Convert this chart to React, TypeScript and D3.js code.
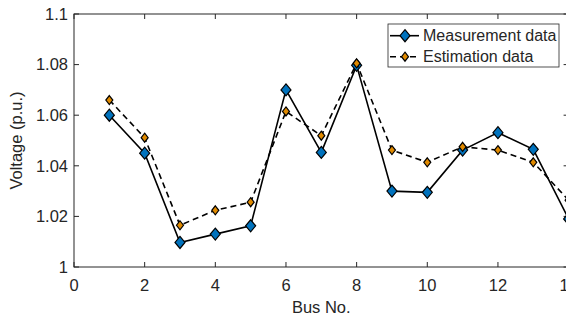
import * as d3 from "d3";

const busNo = [1, 2, 3, 4, 5, 6, 7, 8, 9, 10, 11, 12, 13, 14];
const measurement = [
  1.06, 1.045, 1.0097, 1.013, 1.0163, 1.07, 1.0453, 1.0797, 1.03, 1.0295,
  1.0462, 1.0531, 1.0465, 1.019,
];
const estimation = [
  1.066, 1.0511, 1.0165, 1.0224, 1.0256, 1.0615, 1.0519, 1.0805, 1.0462,
  1.0414, 1.0475, 1.0462, 1.0414, 1.0264,
];
const xTicks = [0, 2, 4, 6, 8, 10, 12, 14];
const yTicks = [1, 1.02, 1.04, 1.06, 1.08, 1.1];
const legendLabels = ["Measurement data", "Estimation data"];

const W = 566;
const H = 320;
const margin = { top: 14, left: 74 };
const plotRight = 568.6;
const plotBottom = 267;
const ink = "#262626";
const font = "Arial, 'Liberation Sans', sans-serif";
const blue = "#0072bd";
const orange = "#e08a00";

const diamond = (cx: number, cy: number, rx: number, ry: number) =>
  `M${cx},${cy - ry}L${cx + rx},${cy}L${cx},${cy + ry}L${cx - rx},${cy}Z`;

export default function App() {
  const x = d3.scaleLinear().domain([0, 14]).range([margin.left, plotRight]);
  const y = d3.scaleLinear().domain([1, 1.1]).range([plotBottom, margin.top]);

  const line = d3
    .line<number>()
    .x((_, i) => x(busNo[i]))
    .y((d) => y(d));

  const tick = 5;

  return (
    <div style={{ position: "fixed", left: 0, top: 0 }}>
      <svg
        width={W}
        height={H}
        style={{ display: "block", overflow: "hidden", background: "#fff" }}
        fontFamily={font}
      >
        {/* box */}
        <rect
          x={margin.left}
          y={margin.top}
          width={plotRight - margin.left}
          height={plotBottom - margin.top}
          fill="none"
          stroke={ink}
          strokeWidth={1}
        />
        {/* x ticks */}
        {xTicks.map((t) => (
          <g key={t}>
            <line x1={x(t)} x2={x(t)} y1={plotBottom} y2={plotBottom - tick} stroke={ink} />
            <line x1={x(t)} x2={x(t)} y1={margin.top} y2={margin.top + tick} stroke={ink} />
            <text
              x={x(t)}
              y={291}
              textAnchor="middle"
              fontSize={16.5}
              fill={ink}
            >
              {t}
            </text>
          </g>
        ))}
        {/* y ticks */}
        {yTicks.map((t) => (
          <g key={t}>
            <line x1={margin.left} x2={margin.left + tick} y1={y(t)} y2={y(t)} stroke={ink} />
            <line x1={plotRight} x2={plotRight - tick} y1={y(t)} y2={y(t)} stroke={ink} />
            <text
              x={margin.left - 6}
              y={y(t)}
              dy="0.35em"
              textAnchor="end"
              fontSize={16.5}
              fill={ink}
            >
              {d3.format("~g")(t)}
            </text>
          </g>
        ))}
        <text
          x={(margin.left + plotRight) / 2}
          y={313}
          textAnchor="middle"
          fontSize={16.5}
          fill={ink}
        >
          Bus No.
        </text>
        <text
          transform={`translate(22,${(margin.top + plotBottom) / 2}) rotate(-90)`}
          textAnchor="middle"
          fontSize={16.5}
          fill={ink}
        >
          Voltage (p.u.)
        </text>

        {/* series */}
        <path d={line(measurement) ?? ""} fill="none" stroke="#000" strokeWidth={1.6} />
        {measurement.map((v, i) => (
          <path
            key={`m${i}`}
            d={diamond(x(busNo[i]), y(v), 5, 6)}
            fill={blue}
            stroke="#000"
            strokeWidth={1.2}
          />
        ))}
        <path
          d={line(estimation) ?? ""}
          fill="none"
          stroke="#000"
          strokeWidth={1.6}
          strokeDasharray="6,4"
        />
        {estimation.map((v, i) => (
          <path
            key={`e${i}`}
            d={diamond(x(busNo[i]), y(v), 3.5, 4.5)}
            fill={orange}
            stroke="#000"
            strokeWidth={1.2}
          />
        ))}

        {/* legend */}
        <g transform="translate(388,24)">
          <rect width={171} height={43} fill="#fff" stroke={ink} strokeWidth={0.8} />
          {legendLabels.map((label, i) => {
            const ly = 11.7 + i * 21;
            return (
              <g key={label}>
                <line
                  x1={2}
                  x2={31}
                  y1={ly}
                  y2={ly}
                  stroke="#000"
                  strokeWidth={1.6}
                  strokeDasharray={i === 1 ? "6,4" : undefined}
                />
                <path
                  d={i === 0 ? diamond(17, ly, 5, 6) : diamond(17, ly, 3.5, 4.5)}
                  fill={i === 0 ? blue : orange}
                  stroke="#000"
                  strokeWidth={1.2}
                />
                <text x={35} y={ly} dy="0.35em" fontSize={16} fill={ink}>
                  {label}
                </text>
              </g>
            );
          })}
        </g>
      </svg>
    </div>
  );
}
